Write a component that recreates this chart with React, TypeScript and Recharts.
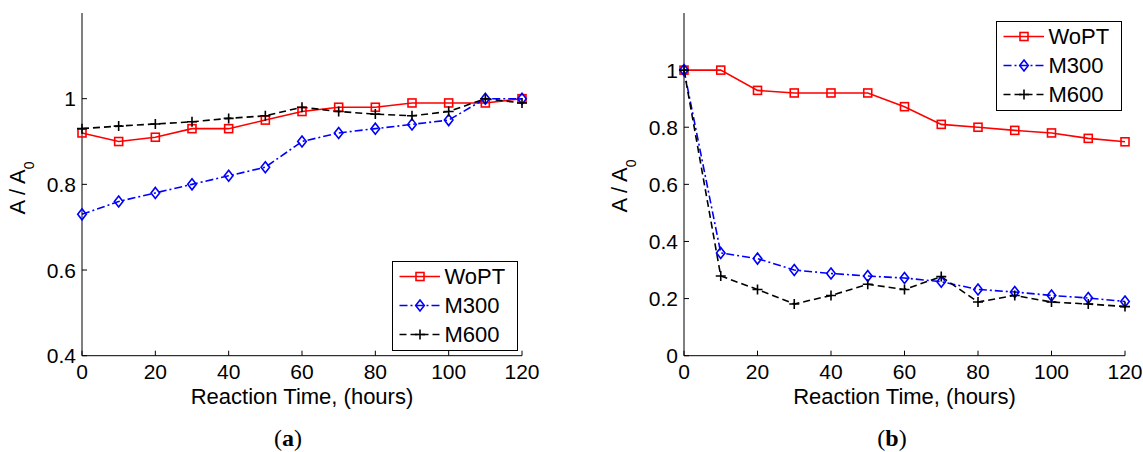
import React from 'react';
import { LineChart, Line, XAxis, YAxis, Legend } from 'recharts';

const times = [0, 10, 20, 30, 40, 50, 60, 70, 80, 90, 100, 110, 120];
const aWoPT = [0.92, 0.9, 0.91, 0.93, 0.93, 0.95, 0.97, 0.98, 0.98, 0.99, 0.99, 0.99, 1.0];
const aM300 = [0.73, 0.76, 0.78, 0.8, 0.82, 0.84, 0.9, 0.92, 0.93, 0.94, 0.95, 1.0, 1.0];
const aM600 = [0.93, 0.936, 0.941, 0.946, 0.954, 0.96, 0.98, 0.97, 0.964, 0.96, 0.97, 1.0, 0.99];
const bWoPT = [1.0, 1.0, 0.929, 0.92, 0.92, 0.92, 0.872, 0.81, 0.8, 0.789, 0.78, 0.761, 0.749];
const bM300 = [1.0, 0.36, 0.34, 0.3, 0.288, 0.279, 0.272, 0.259, 0.232, 0.223, 0.211, 0.202, 0.19];
const bM600 = [1.0, 0.279, 0.232, 0.181, 0.211, 0.25, 0.232, 0.277, 0.188, 0.211, 0.188, 0.181, 0.172];

const xTicks = [0, 20, 40, 60, 80, 100, 120];
const aYTicks = [0.4, 0.6, 0.8, 1];
const bYTicks = [0, 0.2, 0.4, 0.6, 0.8, 1];
const seriesNames = ['WoPT', 'M300', 'M600'];

const FONT = '"Liberation Sans", Arial, Helvetica, sans-serif';
const FS = 21;
const LFS = 22;

type Kind = 'square' | 'diamond' | 'plus';
const SERIES: { key: string; name: string; color: string; dash?: string; kind: Kind }[] = [
  { key: 'wopt', name: seriesNames[0], color: '#ff0000', kind: 'square' },
  { key: 'm300', name: seriesNames[1], color: '#0000ff', dash: '8 3 2 3', kind: 'diamond' },
  { key: 'm600', name: seriesNames[2], color: '#000000', dash: '7 4', kind: 'plus' },
];

function Marker({ kind, cx, cy, color }: { kind: Kind; cx: number; cy: number; color: string }) {
  if (kind === 'square') {
    return <rect x={cx - 4} y={cy - 4} width={8} height={8} fill="none" stroke={color} strokeWidth={1.6} />;
  }
  if (kind === 'diamond') {
    return (
      <polygon
        points={`${cx},${cy - 5.5} ${cx + 4.3},${cy} ${cx},${cy + 5.5} ${cx - 4.3},${cy}`}
        fill="none"
        stroke={color}
        strokeWidth={1.6}
      />
    );
  }
  return (
    <g stroke={color} strokeWidth={1.6}>
      <line x1={cx - 5} y1={cy} x2={cx + 5} y2={cy} />
      <line x1={cx} y1={cy - 5} x2={cx} y2={cy + 5} />
    </g>
  );
}

const makeDot = (kind: Kind, color: string) => (p: any) => {
  if (p.cx == null || p.cy == null) return <g key={`e-${p.index}`} />;
  return (
    <g key={`d-${kind}-${p.index}`}>
      <Marker kind={kind} cx={p.cx} cy={p.cy} color={color} />
    </g>
  );
};

const XTick = (p: any) => {
  const { x, y, payload } = p;
  return (
    <g>
      <line x1={x} x2={x} y1={y} y2={y - 5} stroke="#000" strokeWidth={1} />
      <text x={x} y={y + 23.5} textAnchor="middle" fontFamily={FONT} fontSize={FS} fill="#000">
        {String(payload.value)}
      </text>
    </g>
  );
};

const YTick = (p: any) => {
  const { x, y, payload } = p;
  return (
    <g>
      <line x1={x} x2={x + 5} y1={y} y2={y} stroke="#000" strokeWidth={1} />
      <text x={x - 6} y={y + 7.5} textAnchor="end" fontFamily={FONT} fontSize={FS} fill="#000">
        {String(payload.value)}
      </text>
    </g>
  );
};

function LegendBox() {
  return (
    <div
      style={{
        width: 126,
        height: 90,
        boxSizing: 'border-box',
        border: '1.5px solid #000',
        background: '#fff',
        fontFamily: FONT,
        fontSize: LFS,
        color: '#000',
      }}
    >
      {SERIES.map((s) => (
        <div key={s.key} style={{ position: 'relative', height: 29 }}>
          <svg width={50} height={29} style={{ position: 'absolute', left: 0, top: 0 }}>
            <line x1={6.5} x2={47} y1={14.5} y2={14.5} stroke={s.color} strokeWidth={1.6} strokeDasharray={s.dash} />
            <Marker kind={s.kind} cx={27} cy={14.5} color={s.color} />
          </svg>
          <span style={{ position: 'absolute', left: 51.5, top: 0, lineHeight: '29px', whiteSpace: 'nowrap' }}>
            {s.name}
          </span>
        </div>
      ))}
    </div>
  );
}

function Panel(props: {
  left: number;
  width: number;
  yAxisWidth: number;
  rightMargin: number;
  wopt: number[];
  m300: number[];
  m600: number[];
  yDomain: [number, number];
  yTicks: number[];
  legendLeft: number;
  legendTop: number;
  yLabelX: number;
  yLabelY: number;
  caption: string;
  captionX: number;
}) {
  const data = times.map((t, i) => ({ t, wopt: props.wopt[i], m300: props.m300[i], m600: props.m600[i] }));
  const top = 13;
  const height = 452;
  const xAxisH = 30;
  const bottom = height - 355.7 - xAxisH;
  return (
    <div style={{ position: 'absolute', left: props.left, top: 0, width: props.width, height }}>
      <LineChart
        width={props.width}
        height={height}
        data={data}
        margin={{ top, right: props.rightMargin, left: 0, bottom }}
        style={{ fontFamily: FONT }}
      >
        <XAxis
          dataKey="t"
          type="number"
          domain={[0, 120]}
          ticks={xTicks}
          interval={0}
          height={xAxisH}
          tickSize={0}
          tickMargin={0}
          tickLine={false}
          axisLine={{ stroke: '#000', strokeWidth: 1 }}
          tick={<XTick />}
          label={{
            content: (lp: any) => {
              const vb = lp.viewBox || {};
              return (
                <text
                  x={vb.x + vb.width / 2}
                  y={vb.y + 47.8}
                  textAnchor="middle"
                  fontFamily={FONT}
                  fontSize={LFS}
                  fill="#000"
                >
                  Reaction Time, (hours)
                </text>
              );
            },
          }}
        />
        <YAxis
          type="number"
          domain={props.yDomain}
          ticks={props.yTicks}
          interval={0}
          width={props.yAxisWidth}
          tickSize={0}
          tickMargin={0}
          tickLine={false}
          allowDataOverflow
          axisLine={{ stroke: '#000', strokeWidth: 1 }}
          tick={<YTick />}
          label={{
            content: () => (
              <text
                x={props.yLabelX}
                y={props.yLabelY}
                transform={`rotate(-90, ${props.yLabelX}, ${props.yLabelY})`}
                textAnchor="middle"
                fontFamily={FONT}
                fontSize={LFS}
                fill="#000"
              >
                <tspan>A / A</tspan>
                <tspan fontSize={14} dy={9}>
                  0
                </tspan>
              </text>
            ),
          }}
        />
        {SERIES.map((s) => (
          <Line
            key={s.key}
            dataKey={s.key}
            name={s.name}
            type="linear"
            stroke={s.color}
            strokeWidth={1.6}
            strokeDasharray={s.dash}
            dot={makeDot(s.kind, s.color)}
            activeDot={false}
            isAnimationActive={false}
          />
        ))}
        <Legend
          layout="vertical"
          align="center"
          verticalAlign="middle"
          content={() => <LegendBox />}
          wrapperStyle={{ left: props.legendLeft, top: props.legendTop, width: 126, height: 90 }}
        />
      </LineChart>
      <div
        style={{
          position: 'absolute',
          left: props.captionX - 40,
          width: 80,
          top: 425,
          textAlign: 'center',
          fontFamily: '"Liberation Serif", "Times New Roman", serif',
          fontSize: 24,
          lineHeight: '27px',
          color: '#000',
        }}
      >
        (<b>{props.caption}</b>)
      </div>
    </div>
  );
}

export default function App() {
  return (
    <div style={{ position: 'absolute', left: 0, top: 0, width: 1143, height: 452, background: '#fff' }}>
      <Panel
        left={0}
        width={560}
        yAxisWidth={82}
        rightMargin={38}
        wopt={aWoPT}
        m300={aM300}
        m600={aM600}
        yDomain={[0.4, 1.2]}
        yTicks={aYTicks}
        legendLeft={392}
        legendTop={261}
        yLabelX={25}
        yLabelY={188}
        caption="a"
        captionX={288}
      />
      <Panel
        left={560}
        width={583}
        yAxisWidth={124}
        rightMargin={18}
        wopt={bWoPT}
        m300={bM300}
        m600={bM600}
        yDomain={[0, 1.2]}
        yTicks={bYTicks}
        legendLeft={436}
        legendTop={21}
        yLabelX={67}
        yLabelY={186}
        caption="b"
        captionX={332}
      />
    </div>
  );
}
